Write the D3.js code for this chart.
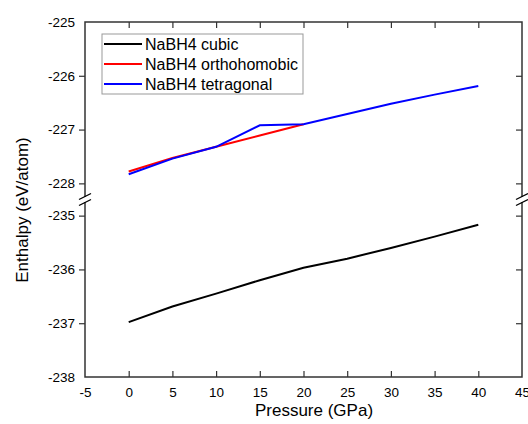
<!DOCTYPE html>
<html>
<head>
<meta charset="utf-8">
<script src="https://cdn.jsdelivr.net/npm/d3@7"></script>
<style>
  body { margin: 0; background: #fff; }
  text { font-family: "Liberation Sans", Arial, sans-serif; }
</style>
</head>
<body>
<div id="chart"></div>
<script>
// ----- data
var pressure = [0, 5, 10, 15, 20, 25, 30, 35, 40];
var cubic = [-236.98, -236.69, -236.45, -236.2, -235.97, -235.8, -235.6, -235.39, -235.17];
var ortho = [-227.78, -227.53, -227.32, -227.11, -226.9];
var tetra = [-227.83, -227.54, -227.32, -226.92, -226.9, -226.71, -226.52, -226.35, -226.19];
var xTicks = [-5, 0, 5, 10, 15, 20, 25, 30, 35, 40, 45];
var yTicksTop = [-225, -226, -227, -228];
var yTicksBottom = [-235, -236, -237, -238];
var seriesNames = ["NaBH4 cubic", "NaBH4 orthohomobic", "NaBH4 tetragonal"];
var seriesColors = ["#000", "#f00", "#00f"];

var W = 528, H = 424;
var mLeft = 85, mRight = 522, mTop = 22, mBottom = 377;
var breakY = 199.5;

var svg = d3.select("#chart").append("svg").attr("width", W).attr("height", H);

var x = d3.scaleLinear().domain([-5, 45]).range([mLeft, mRight]);
// broken y axis: two linear pieces
var yTop = d3.scaleLinear().domain([-228.3, -225]).range([breakY, mTop]);
var yBot = d3.scaleLinear().domain([-238, -234.7]).range([mBottom, breakY]);
function y(v) { return v > -231 ? yTop(v) : yBot(v); }

var axisColor = "#333";
var fmt = function(d) { return String(d); };

// ----- lines
var line = d3.line()
  .x(function(d) { return x(d[0]); })
  .y(function(d) { return y(d[1]); });

var series = [cubic, ortho, tetra];
series.forEach(function(vals, i) {
  var pts = vals.map(function(v, j) { return [pressure[j], v]; });
  svg.append("path")
    .attr("d", line(pts))
    .attr("fill", "none")
    .attr("stroke", seriesColors[i])
    .attr("stroke-width", 2);
});

// ----- frame
svg.append("rect").attr("x", mLeft).attr("y", mTop)
  .attr("width", mRight - mLeft).attr("height", mBottom - mTop)
  .attr("fill", "none").attr("stroke", axisColor).attr("stroke-width", 1.5);

// x axis ticks (inward, bottom and top)
var gx = svg.append("g").attr("transform", "translate(0," + mBottom + ")")
  .call(d3.axisBottom(x).tickValues(xTicks).tickSize(-6).tickPadding(10).tickFormat(fmt));
var gxTop = svg.append("g").attr("transform", "translate(0," + mTop + ")")
  .call(d3.axisTop(x).tickValues(xTicks).tickSize(-6).tickFormat(""));

// y axis ticks (outward on left, inward on right)
var gyT = svg.append("g").attr("transform", "translate(" + mLeft + ",0)")
  .call(d3.axisLeft(yTop).tickValues(yTicksTop).tickSize(6).tickPadding(4).tickFormat(fmt));
var gyB = svg.append("g").attr("transform", "translate(" + mLeft + ",0)")
  .call(d3.axisLeft(yBot).tickValues(yTicksBottom).tickSize(6).tickPadding(4).tickFormat(fmt));
var gyTR = svg.append("g").attr("transform", "translate(" + mRight + ",0)")
  .call(d3.axisRight(yTop).tickValues(yTicksTop).tickSize(-6).tickFormat(""));
var gyBR = svg.append("g").attr("transform", "translate(" + mRight + ",0)")
  .call(d3.axisRight(yBot).tickValues(yTicksBottom).tickSize(-6).tickFormat(""));

[gx, gxTop, gyT, gyB, gyTR, gyBR].forEach(function(g) {
  g.select(".domain").remove();
  g.selectAll(".tick line").attr("stroke", axisColor).attr("stroke-width", 1.2);
  g.selectAll(".tick text").attr("font-size", 13.5).attr("fill", "#000")
    .attr("font-family", "Liberation Sans, Arial, sans-serif");
});
[gx, gxTop].forEach(function(g) {
  g.selectAll(".tick").filter(function(d) { return d === -5 || d === 45; }).select("line").remove();
});
[gyT, gyTR].forEach(function(g) {
  g.selectAll(".tick").filter(function(d) { return d === -225; }).select("line").remove();
});
[gyB, gyBR].forEach(function(g) {
  g.selectAll(".tick").filter(function(d) { return d === -238; }).select("line").remove();
});

// ----- axis breaks
[mLeft, mRight].forEach(function(ax) {
  svg.append("rect").attr("x", ax - 3).attr("y", breakY - 2.5).attr("width", 6).attr("height", 5).attr("fill", "#fff");
  [-3, 3].forEach(function(o) {
    svg.append("line")
      .attr("x1", ax - 6).attr("y1", breakY + o + 3)
      .attr("x2", ax + 6).attr("y2", breakY + o - 3)
      .attr("stroke", "#000").attr("stroke-width", 1.3);
  });
});

// ----- axis titles
svg.append("text").attr("x", 314).attr("y", 416)
  .attr("text-anchor", "middle").attr("font-size", 17).text("Pressure (GPa)");
svg.append("text").attr("transform", "translate(28,210) rotate(-90)")
  .attr("text-anchor", "middle").attr("font-size", 17).text("Enthalpy (eV/atom)");

// ----- legend
var lg = svg.append("g").attr("transform", "translate(102,34)");
lg.append("rect").attr("width", 201).attr("height", 60)
  .attr("fill", "#fff").attr("stroke", "#999").attr("stroke-width", 1);
seriesNames.forEach(function(name, i) {
  var yy = 10 + i * 20;
  lg.append("line").attr("x1", 2).attr("x2", 40).attr("y1", yy).attr("y2", yy)
    .attr("stroke", seriesColors[i]).attr("stroke-width", 2);
  lg.append("text").attr("x", 43).attr("y", yy + 5.5).attr("font-size", 16).text(name);
});
</script>
</body>
</html>
